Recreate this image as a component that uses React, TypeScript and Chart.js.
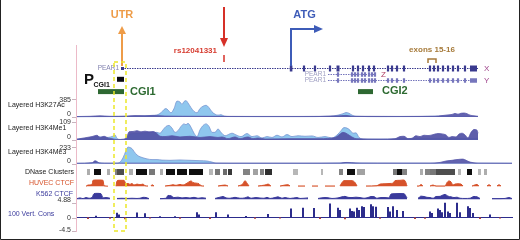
import React, { useEffect, useRef } from 'react';
import { Chart, registerables } from 'chart.js';

Chart.register(...registerables);

// ---------------- DATA (x = position along the locus, 0..440) ----------------
const X_MAX = 440;

// Layered histone tracks: [position, signal]
const h3k27acLight: [number, number][] = [
  [1, 5], [24, 8], [44, 10], [61, 15], [69, 25], [76, 35], [81, 45], [85, 90], [88, 160], [90, 180], [92, 150],
  [95, 90], [98, 180], [101, 340], [104, 320], [106, 270], [108, 330], [110, 350], [112, 300], [115, 200],
  [118, 120], [121, 90], [124, 180], [127, 230], [130, 250], [133, 200], [136, 110], [139, 60], [142, 40],
  [145, 50], [148, 20], [154, 10], [184, 8], [224, 8], [254, 15], [262, 40], [267, 70], [270, 95], [273, 80],
  [276, 40], [280, 15], [304, 8], [344, 10], [364, 20], [402, 10],
];
const h3k27acDark: [number, number][] = [
  [1, 10], [14, 15], [24, 25], [34, 15], [51, 20], [59, 30], [69, 25], [79, 30], [89, 20], [124, 15], [174, 12],
  [224, 12], [264, 25], [270, 35], [276, 15], [324, 12], [359, 15], [366, 30], [372, 45], [376, 55], [379, 75],
  [382, 60], [385, 80], [388, 85], [391, 70], [394, 40], [398, 25], [402, 15],
];
const h3k4me1Light: [number, number][] = [
  [1, 5], [14, 12], [21, 20], [29, 15], [36, 20], [39, 30], [41, 10], [44, 3], [51, 5], [54, 35], [64, 40],
  [74, 45], [81, 45], [84, 40], [87, 60], [90, 80], [93, 86], [96, 70], [99, 45], [102, 55], [105, 80],
  [108, 95], [110, 90], [112, 98], [115, 75], [118, 40], [121, 20], [124, 60], [127, 85], [130, 95], [133, 80],
  [136, 45], [139, 45], [142, 65], [145, 45], [149, 25], [156, 40], [160, 30], [165, 20], [171, 38], [176, 20],
  [181, 25], [186, 12], [191, 20], [196, 15], [201, 28], [206, 18], [211, 32], [216, 20], [222, 25], [229, 22],
  [236, 24], [242, 15], [249, 20], [256, 12], [262, 35], [265, 55], [268, 73], [271, 70], [274, 58], [277, 40],
  [280, 42], [283, 15], [289, 5], [314, 5], [324, 8], [344, 10], [364, 10], [402, 10],
];
const h3k4me1Dark: [number, number][] = [
  [1, 5], [6, 10], [11, 15], [16, 20], [21, 28], [24, 15], [28, 22], [32, 12], [36, 8], [41, 3], [48, 5],
  [51, 20], [53, 48], [57, 50], [61, 55], [65, 48], [69, 52], [73, 48], [77, 50], [81, 38], [84, 22], [89, 20],
  [96, 25], [104, 18], [114, 22], [124, 15], [134, 20], [142, 15], [146, 18], [152, 8], [159, 18], [164, 8],
  [172, 18], [177, 8], [182, 12], [189, 6], [214, 8], [244, 8], [259, 15], [264, 35], [267, 45], [270, 40],
  [274, 25], [280, 8], [304, 5], [319, 8], [324, 20], [328, 22], [332, 8], [336, 10], [340, 25], [344, 20],
  [348, 28], [352, 26], [356, 30], [359, 35], [362, 38], [366, 36], [370, 30], [373, 15], [376, 20], [380, 18],
  [383, 35], [386, 40], [389, 30], [392, 12], [395, 45], [398, 62], [401, 58], [402, 40],
];
const h3k4me3Light: [number, number][] = [
  [1, 3], [17, 10], [20, 35], [23, 10], [34, 3], [41, 5], [44, 20], [47, 80], [50, 180], [52, 233], [54, 225],
  [56, 210], [58, 170], [61, 120], [64, 95], [67, 80], [71, 65], [76, 55], [81, 55], [86, 48], [94, 45],
  [104, 50], [114, 45], [124, 40], [131, 35], [136, 20], [140, 5], [154, 3], [224, 3], [264, 8], [272, 15],
  [279, 8], [324, 5], [436, 5],
];
const h3k4me3Dark: [number, number][] = [
  [1, 3], [16, 10], [19, 38], [22, 15], [25, 5], [54, 5], [124, 5], [264, 5], [270, 15], [276, 10], [284, 5],
  [354, 5], [364, 15], [370, 35], [376, 45], [381, 55], [384, 60], [387, 62], [390, 45], [394, 20], [402, 5],
  [436, 3],
];

// DNase clusters: start, end, score (0..1)
const dnaseStart = [11, 18, 31, 39, 41, 53, 60, 73, 84, 90, 101, 113, 133, 139, 147, 152, 167, 177, 184, 189, 217, 245, 263, 271, 281, 317, 321, 326, 344, 349, 354, 360, 382, 391, 402, 408];
const dnaseEnd = [14, 25, 34, 41, 48, 57, 71, 79, 87, 99, 111, 127, 137, 144, 151, 156, 174, 182, 188, 196, 222, 247, 267, 279, 289, 321, 326, 331, 347, 354, 360, 379, 385, 396, 405, 411];
const dnaseScore = [0.25, 1, 0.25, 0.45, 0.7, 0.25, 1, 0.5, 0.25, 1, 1, 1, 0.2, 0.5, 0.55, 0.8, 0.45, 0.3, 0.45, 0.85, 0.2, 0.2, 0.45, 1, 0.3, 0.5, 1, 0.45, 0.25, 0.45, 0.5, 0.7, 0.2, 1, 0.2, 0.25];

// CTCF tracks (relative signal 0..100, null = no data)
const huvecCtcf: [number, number | null][] = [
  [10, 0], [12, 20], [16, 25], [17, 95], [20, 100], [24, 100], [27, 95], [28, 10], [32, 2], [36, null], [40, 2],
  [41, 85], [43, 95], [48, 95], [50, 40], [52, 45], [54, 30], [56, 45], [58, 20], [61, 35], [64, 25], [67, 35],
  [69, 10], [72, 5], [74, null], [75, 5], [76, 25], [78, 5], [81, null], [89, 5], [94, 15], [97, 25], [100, 15],
  [104, 30], [107, 20], [110, 40], [113, 70], [115, 85], [117, 60], [120, 50], [123, 40], [125, 10], [128, 5],
  [131, null], [142, 5], [146, 15], [149, 20], [152, 5], [156, null], [162, 5], [167, 40], [169, 90], [171, 50],
  [173, 5], [176, null], [182, 5], [189, 20], [192, 35], [195, 5], [199, null], [204, 5], [209, 20], [212, 25],
  [214, 5], [217, null], [222, 5], [229, 5], [231, null], [236, 5], [242, 5], [244, null], [249, 5], [259, 5],
  [262, null], [264, 5], [266, 60], [268, 90], [276, 90], [279, 60], [281, 5], [286, null], [290, 5], [301, 10],
  [304, 35], [309, 40], [314, 45], [317, 50], [319, 90], [324, 95], [327, 100], [329, 90], [331, 5], [334, null],
  [341, 5], [343, 5], [345, 30], [347, 5], [350, null], [354, 5], [357, 20], [360, 5], [369, 5], [371, 60],
  [373, 85], [375, 70], [377, 20], [379, 35], [382, 40], [385, 35], [387, 5], [391, null], [396, 5], [401, 30],
  [403, 5], [407, null], [411, 5], [413, 25], [415, 5], [418, null], [421, 5], [423, 25], [425, 5],
];
const k562Ctcf: [number, number | null][] = [
  [1, 10], [4, 20], [7, 10], [10, 25], [13, 15], [16, 25], [18, 80], [21, 85], [25, 80], [27, 20], [30, 25],
  [34, 15], [38, null], [41, 12], [46, 15], [51, 12], [56, 15], [61, 12], [64, 15], [67, 28], [70, 25], [73, 10],
  [78, null], [84, 10], [90, 15], [92, 55], [95, 50], [98, 25], [102, 30], [106, 20], [110, 25], [114, 18],
  [118, 28], [122, 15], [126, 22], [130, 15], [134, null], [139, 12], [144, 30], [147, 40], [150, 20], [154, 15],
  [159, 28], [164, 15], [169, 20], [172, 35], [175, 15], [180, 25], [184, 18], [188, 15], [191, 28], [194, 12],
  [199, 25], [202, 35], [206, 15], [209, 25], [214, 12], [221, 25], [224, 12], [228, 15], [232, 20], [236, null],
  [242, 12], [249, 25], [252, 22], [256, 12], [262, 20], [266, 35], [269, 42], [272, 28], [276, 25], [280, 30],
  [284, 25], [288, 15], [292, 25], [295, 40], [298, 38], [301, 15], [305, 25], [309, 25], [313, 20], [315, 75],
  [319, 80], [324, 82], [328, 80], [331, 20], [334, null], [342, 12], [345, 45], [348, 40], [351, 28], [354, 25],
  [357, 15], [360, 40], [364, 42], [366, 55], [369, 70], [372, 45], [375, 35], [378, 25], [381, 30], [384, 15],
  [389, 12], [394, 15], [398, 40], [401, 35], [404, 12], [409, null], [416, 10], [424, 10], [429, 12], [433, 25],
  [436, 10],
];

// 100 vertebrates conservation: position, score
const consPos = [12, 20, 34, 41, 43, 49, 61, 69, 74, 84, 99, 104, 121, 123, 134, 140, 152, 170, 179, 192, 204, 215, 227, 238, 244, 254, 262, 264, 269, 274, 276, 278, 281, 283, 286, 288, 295, 297, 300, 304, 312, 314, 317, 321, 327, 339, 349, 354, 356, 362, 364, 366, 369, 372, 374, 381, 384, 392, 394, 397, 404, 414, 424];
const consVal = [-0.5, 0.6, -0.4, 1.6, 1.0, -0.6, 1.7, 1.4, -0.3, 0.4, 0.4, -0.4, 1.8, 1.0, -0.5, 1.8, 1.0, 0.5, -0.4, 1.2, -0.3, 3.0, 3.3, 3.2, -0.5, 4.7, 3.3, 2.5, -0.6, 3.0, 2.2, 2.0, 3.3, 2.5, 3.8, 3.5, 4.5, 3.8, 3.6, -0.4, 3.5, 2.0, 3.8, 2.5, 2.2, -0.5, -0.4, 2.0, 1.5, 3.0, 2.5, 1.8, 5.0, 2.0, 1.5, 5.0, 1.8, 3.8, 3.2, 1.5, -0.5, 1.0, -0.3];
const consSpan = [1, 437];

// Gene models (PEAR1 transcripts X, Z, Y) — rows 0,1,2
const transcriptRows = [0, 1, 2];
const transcriptSpan: [number, number][] = [[46, 402], [252, 300], [252, 402]];
const transcriptNames = ['X', 'Z', 'Y'];
const utrExon: [number, number][] = [[45, 48]];
const exonsX: [number, number][] = [
  [213.8, 216.4], [226.9, 229.1], [237.9, 240.1], [252.9, 255.1], [260.5, 263.5], [275.9, 278.1], [280.9, 283.1],
  [285.9, 288.1], [291.9, 294.1], [296.9, 299.1], [310.9, 313.1], [314.9, 317.1], [319.9, 322.1], [326.9, 329.1],
  [352.9, 355.1], [356.9, 359.1], [360.9, 363.1], [365.9, 368.1], [370.9, 373.1], [375.9, 378.1], [380.9, 383.1],
  [387.9, 390.1], [394, 401],
];
const exonsZ: [number, number][] = [
  [260.9, 263.1], [274.9, 277.1], [277.9, 280.1], [280.9, 283.1], [284.9, 287.1], [287.9, 290.1], [291.9, 294.1],
  [294.9, 297.1], [297.9, 300.1],
];
const exonsY: [number, number][] = [
  ...exonsZ,
  [310.9, 313.1], [314.9, 317.1], [319.9, 322.1], [326.9, 329.1], [352.9, 355.1], [356.9, 359.1], [360.9, 363.1],
  [365.9, 368.1], [370.9, 373.1], [375.9, 378.1], [380.9, 383.1], [387.9, 390.1], [394, 401],
];
const promoterBox: [number, number][] = [[41, 48]];
const cpgIslands: [number, number][] = [[22, 48], [282, 297]];
const cpgNames = ['CGI1', 'CGI2'];
const promoterRow = 1.8;
const cpgRow = 3.85;

// Annotations
const utrPos = 46;
const snpPos = 148;
const snpName = 'rs12041331';
const atgPos = 215;
const exon1516: [number, number] = [352, 360];
const highlight: [number, number] = [38, 50];

const layeredNames = ['Layered H3K27Ac', 'Layered H3K4Me1', 'Layered H3K4Me3'];
const layeredMax = [385, 109, 233];
const consTicks = [4.88, 0, -4.5];

// ---------------- LAYOUT / STYLE ----------------
const CW = 520;
const CH = 240;
const FONT = '"Liberation Sans", Arial, Helvetica, sans-serif';
const LIGHT = 'rgb(143,199,238)';
const DARK = 'rgb(86,86,168)';
const HUVEC_C = 'rgb(214,82,42)';
const K562_C = 'rgb(58,58,156)';
const CONS_C = 'rgb(44,44,140)';
const GENE_C = 'rgb(58,58,142)';
const GENE_C2 = 'rgb(118,118,188)';

function band(zeroPx: number, refPx: number, refVal: number) {
  const k = (zeroPx - refPx) / refVal;
  return { min: -(CH - zeroPx) / k, max: zeroPx / k };
}
function bandRev(zeroPx: number, pxPerUnit: number) {
  return { min: -zeroPx / pxPerUnit, max: (CH - zeroPx) / pxPerUnit };
}

const pts = (arr: [number, number | null][]) => arr.map(([x, y]) => ({ x, y }));

function area(data: [number, number | null][], axis: string, line: string, fillC: string, order: number, bw = 0.8) {
  return {
    type: 'line',
    data: pts(data),
    yAxisID: axis,
    xAxisID: 'x',
    borderColor: line,
    backgroundColor: fillC,
    fill: 'origin',
    borderWidth: bw,
    pointRadius: 0,
    cubicInterpolationMode: 'monotone',
    spanGaps: false,
    order,
  };
}

function blocks(spans: [number, number][], row: number, axis: string, color: string | string[], thickness: number, order: number) {
  return {
    type: 'bar',
    indexAxis: 'y',
    xAxisID: 'x',
    yAxisID: axis,
    data: spans.map(([s, e]) => ({ x: [s, e], y: row })),
    backgroundColor: color,
    barThickness: thickness,
    grouped: false,
    borderWidth: 0,
    inflateAmount: 0,
    order,
  };
}

function line(span: [number, number], row: number, axis: string, color: string, width: number, dash: number[], order: number) {
  return {
    type: 'line',
    data: [{ x: span[0], y: row }, { x: span[1], y: row }],
    yAxisID: axis,
    xAxisID: 'x',
    borderColor: color,
    borderWidth: width,
    borderDash: dash,
    pointRadius: 0,
    fill: false,
    order,
  };
}

const annotations = {
  id: 'annotations',
  beforeDraw(chart: any) {
    const ctx = chart.ctx;
    ctx.save();
    ctx.fillStyle = '#ffffff';
    ctx.fillRect(0, 0, CW, CH);
    ctx.restore();
  },
  afterDatasetsDraw(chart: any) {
    const ctx: CanvasRenderingContext2D = chart.ctx;
    const s = chart.scales;
    const X = (v: number) => s.x.getPixelForValue(v);
    const left = chart.chartArea.left;
    ctx.save();

    // pink vertical axis line
    ctx.strokeStyle = 'rgb(236,186,200)';
    ctx.lineWidth = 1;
    ctx.beginPath();
    ctx.moveTo(left + 0.5, 45);
    ctx.lineTo(left + 0.5, 232);
    ctx.stroke();

    const text = (t: string, x: number, y: number, font: string, color: string, align: CanvasTextAlign = 'left') => {
      ctx.font = font;
      ctx.fillStyle = color;
      ctx.textAlign = align;
      ctx.textBaseline = 'middle';
      ctx.fillText(t, x, y);
    };
    const tick = (y: number) => {
      ctx.strokeStyle = 'rgb(200,180,190)';
      ctx.lineWidth = 1;
      ctx.beginPath();
      ctx.moveTo(left - 4, Math.round(y) + 0.5);
      ctx.lineTo(left, Math.round(y) + 0.5);
      ctx.stroke();
    };

    // layered tracks: labels + ticks
    const ids = ['yK27', 'yMe1', 'yMe3'];
    ids.forEach((id, i) => {
      const top = s[id].getPixelForValue(layeredMax[i]);
      const zero = s[id].getPixelForValue(0);
      tick(top);
      tick(zero);
      text(String(layeredMax[i]), left - 5, top + 1, `7px ${FONT}`, '#333', 'right');
      text('0', left - 5, zero - 2.5, `7px ${FONT}`, '#333', 'right');
      text(layeredNames[i], 8, zero - 11.5, `7px ${FONT}`, '#222');
    });
    text('DNase Clusters', left - 2, s.yDnase.getPixelForValue(0), `7px ${FONT}`, '#222', 'right');
    text('HUVEC CTCF', left - 2, s.yHuvec.getPixelForValue(0) - 3.5, `7px ${FONT}`, HUVEC_C, 'right');
    text('K562 CTCF', left - 3, s.yK562.getPixelForValue(0) - 5, `7px ${FONT}`, K562_C, 'right');
    const cz = s.yCons.getPixelForValue(0);
    text('100 Vert. Cons', 8, cz - 3, `7px ${FONT}`, K562_C);
    const consOff = [-3, 0.5, -1];
    consTicks.forEach((v, i) => {
      const y = s.yCons.getPixelForValue(v);
      tick(y);
      text(String(v), left - 5, y + consOff[i], `7px ${FONT}`, '#333', 'right');
    });

    // transcript labels
    const gy = (r: number) => s.yGene.getPixelForValue(r);
    text('PEAR1', X(transcriptSpan[0][0]) - 3, gy(transcriptRows[0]), `6.5px ${FONT}`, 'rgb(130,130,175)', 'right');
    text('PEAR1', X(transcriptSpan[1][0]) - 2, gy(transcriptRows[1]), `6.5px ${FONT}`, 'rgb(160,160,195)', 'right');
    text('PEAR1', X(transcriptSpan[2][0]) - 2, gy(transcriptRows[2]), `6.5px ${FONT}`, 'rgb(160,160,195)', 'right');
    text(transcriptNames[0], X(transcriptSpan[0][1]) + 6, gy(transcriptRows[0]), `8px ${FONT}`, 'rgb(160,70,140)');
    text(transcriptNames[1], X(transcriptSpan[1][1]) + 5, gy(transcriptRows[1]) + 0.5, `8px ${FONT}`, 'rgb(176,64,100)');
    text(transcriptNames[2], X(transcriptSpan[2][1]) + 6, gy(transcriptRows[2]), `8px ${FONT}`, 'rgb(160,70,140)');

    // CGI labels
    const cgiY = gy(cpgRow);
    text(cpgNames[0], X(cpgIslands[0][1]) + 6, cgiY, `bold 11px ${FONT}`, 'rgb(45,106,49)');
    text(cpgNames[1], X(cpgIslands[1][1]) + 9, cgiY - 0.5, `bold 11px ${FONT}`, 'rgb(45,106,49)');
    // P_CGI1
    text('P', 84, 80, `bold 15px ${FONT}`, '#111');
    text('CGI1', 93.5, 85.5, `bold 7px ${FONT}`, '#111');

    // UTR arrow (orange)
    const ux = X(utrPos);
    ctx.strokeStyle = 'rgb(238,156,72)';
    ctx.fillStyle = 'rgb(238,156,72)';
    ctx.lineWidth = 2;
    ctx.beginPath();
    ctx.moveTo(ux, 66);
    ctx.lineTo(ux, 32);
    ctx.stroke();
    ctx.beginPath();
    ctx.moveTo(ux, 26);
    ctx.lineTo(ux - 4, 34);
    ctx.lineTo(ux + 4, 34);
    ctx.closePath();
    ctx.fill();
    text('UTR', ux, 15, `bold 11px ${FONT}`, 'rgb(238,156,72)', 'center');

    // SNP arrow (red)
    const sx = X(snpPos);
    ctx.strokeStyle = 'rgb(214,48,40)';
    ctx.fillStyle = 'rgb(214,48,40)';
    ctx.lineWidth = 2;
    ctx.beginPath();
    ctx.moveTo(sx, 7);
    ctx.lineTo(sx, 40);
    ctx.stroke();
    ctx.beginPath();
    ctx.moveTo(sx, 47);
    ctx.lineTo(sx - 4, 38);
    ctx.lineTo(sx + 4, 38);
    ctx.closePath();
    ctx.fill();
    ctx.lineWidth = 1.5;
    ctx.beginPath();
    ctx.moveTo(sx, 55);
    ctx.lineTo(sx, 62);
    ctx.stroke();
    text(snpName, sx - 7, 50.5, `bold 8px ${FONT}`, 'rgb(214,60,48)', 'right');

    // ATG arrow (blue)
    const ax = X(atgPos);
    ctx.strokeStyle = 'rgb(62,92,184)';
    ctx.fillStyle = 'rgb(62,92,184)';
    ctx.lineWidth = 2;
    ctx.beginPath();
    ctx.moveTo(ax, 66);
    ctx.lineTo(ax, 29);
    ctx.lineTo(ax + 24, 29);
    ctx.stroke();
    ctx.beginPath();
    ctx.moveTo(ax + 32, 29);
    ctx.lineTo(ax + 23, 25);
    ctx.lineTo(ax + 23, 33);
    ctx.closePath();
    ctx.fill();
    text('ATG', ax + 13.5, 15, `bold 11px ${FONT}`, 'rgb(62,92,184)', 'center');

    // exons 15-16 bracket
    const b0 = X(exon1516[0]);
    const b1 = X(exon1516[1]);
    ctx.strokeStyle = 'rgb(166,122,58)';
    ctx.lineWidth = 1.5;
    ctx.beginPath();
    ctx.moveTo(b0, 63);
    ctx.lineTo(b0, 59);
    ctx.lineTo(b1, 59);
    ctx.lineTo(b1, 63);
    ctx.stroke();
    text('exons 15-16', (b0 + b1) / 2, 50, `bold 8px ${FONT}`, 'rgb(166,122,58)', 'center');

    // yellow dashed highlight
    const h0 = X(highlight[0]);
    const h1 = X(highlight[1]);
    ctx.strokeStyle = 'rgb(236,232,40)';
    ctx.lineWidth = 1.5;
    ctx.setLineDash([4, 3]);
    ctx.strokeRect(h0, 62, h1 - h0, 169);
    ctx.setLineDash([]);

    // frame
    ctx.strokeStyle = '#222';
    ctx.lineWidth = 1;
    ctx.beginPath();
    ctx.moveTo(0.5, 0);
    ctx.lineTo(0.5, CH - 0.5);
    ctx.lineTo(CW - 0.5, CH - 0.5);
    ctx.lineTo(CW - 0.5, 0);
    ctx.stroke();
    ctx.restore();
  },
};

export default function App() {
  const ref = useRef<HTMLCanvasElement | null>(null);
  useEffect(() => {
    if (!ref.current) return;
    const dnaseColors = dnaseScore.map((d) => {
      const g = Math.round(225 - d * 210);
      return `rgb(${g},${g},${g})`;
    });
    const consColors = consVal.map((v) => (v >= 0 ? CONS_C : 'rgb(180,70,60)'));
    const datasets: any[] = [
      // histone layers
      area(h3k27acDark, 'yK27', DARK, 'rgba(86,86,168,0.92)', 1),
      area(h3k27acLight, 'yK27', 'rgb(120,150,210)', LIGHT, 2),
      area(h3k4me1Dark, 'yMe1', DARK, 'rgba(80,80,164,0.92)', 1),
      area(h3k4me1Light, 'yMe1', 'rgb(120,150,210)', LIGHT, 2),
      area(h3k4me3Dark, 'yMe3', DARK, 'rgba(86,86,168,0.92)', 1),
      area(h3k4me3Light, 'yMe3', 'rgb(120,150,210)', LIGHT, 2),
      // DNase
      {
        type: 'bar',
        indexAxis: 'y',
        xAxisID: 'x',
        yAxisID: 'yDnase',
        data: dnaseStart.map((s, i) => ({ x: [s, dnaseEnd[i]], y: 0 })),
        backgroundColor: dnaseColors,
        barThickness: 6,
        grouped: false,
        borderWidth: 0,
        inflateAmount: 0,
        order: 1,
      },
      // CTCF
      area(huvecCtcf, 'yHuvec', HUVEC_C, HUVEC_C, 1, 1),
      area(k562Ctcf, 'yK562', K562_C, K562_C, 1, 1),
      // conservation
      {
        type: 'bar',
        xAxisID: 'x',
        yAxisID: 'yCons',
        data: consPos.map((p, i) => ({ x: p, y: consVal[i] })),
        backgroundColor: consColors,
        barThickness: 2,
        grouped: false,
        borderWidth: 0,
        inflateAmount: 0,
        order: 1,
      },
      line([consSpan[0], consSpan[1]], 0, 'yCons', CONS_C, 1.2, [], 2),
      // gene models
      line(transcriptSpan[0], transcriptRows[0], 'yGene', GENE_C, 1.2, [1.5, 1], 3),
      line(transcriptSpan[1], transcriptRows[1], 'yGene', GENE_C2, 1.2, [1.5, 1], 3),
      line(transcriptSpan[2], transcriptRows[2], 'yGene', GENE_C2, 1.2, [1.5, 1], 3),
      blocks(utrExon, transcriptRows[0], 'yGene', GENE_C, 3, 1),
      blocks(exonsX, transcriptRows[0], 'yGene', GENE_C, 6, 1),
      blocks(exonsZ, transcriptRows[1], 'yGene', GENE_C2, 4.5, 1),
      blocks(exonsY, transcriptRows[2], 'yGene', GENE_C2, 4.5, 1),
      blocks(promoterBox, promoterRow, 'yGene', '#0a0a14', 5, 1),
      blocks(cpgIslands, cpgRow, 'yGene', 'rgb(46,104,50)', 5, 1),
    ];
    const hid = { type: 'linear', display: false, offset: false };
    const chart = new Chart(ref.current, {
      type: 'line',
      data: { datasets },
      options: {
        responsive: false,
        maintainAspectRatio: false,
        animation: false,
        devicePixelRatio: 1,
        events: [],
        layout: { padding: { left: 76, right: 4, top: 0, bottom: 0 } },
        plugins: { legend: { display: false }, tooltip: { enabled: false }, title: { display: false } },
        scales: {
          x: { ...hid, min: 0, max: X_MAX },
          yGene: { ...hid, reverse: true, ...bandRev(68.5, 6) },
          yK27: { ...hid, ...band(117, 99, layeredMax[0]) },
          yMe1: { ...hid, ...band(140, 121.5, layeredMax[1]) },
          yMe3: { ...hid, ...band(163.5, 147, layeredMax[2]) },
          yDnase: { ...hid, ...band(172, 171, 1) },
          yHuvec: { ...hid, ...band(186.3, 180, 100) },
          yK562: { ...hid, ...band(199.3, 192.3, 100) },
          yCons: { ...hid, ...band(217.5, 203, consTicks[0]) },
        },
      } as any,
      plugins: [annotations],
    } as any);
    return () => chart.destroy();
  }, []);
  return (
    <div style={{ position: 'fixed', left: 0, top: 0, width: CW, height: CH, background: '#fff' }}>
      <canvas ref={ref} width={CW} height={CH} style={{ display: 'block', width: CW, height: CH }} />
    </div>
  );
}
